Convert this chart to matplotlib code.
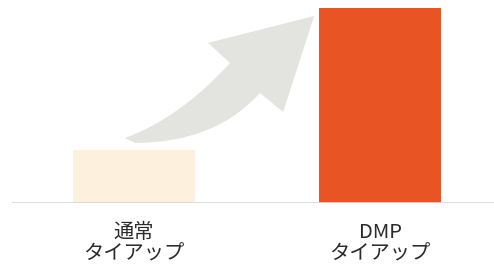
import matplotlib.pyplot as plt
from matplotlib.path import Path
from matplotlib.patches import PathPatch

plt.rcParams['font.family'] = ['Noto Sans CJK JP', 'DejaVu Sans']

# data
labels = ['通常\nタイアップ', 'DMP\nタイアップ']
values = [27, 100]
colors = ['#fdf1de', '#e95424']

fig = plt.figure(figsize=(4.94, 2.64), dpi=100)
ax = fig.add_axes([12 / 494, 61 / 264, 482 / 494, 203 / 264])

x = list(range(len(values)))
ax.bar(x, values, width=0.496, color=colors, zorder=2)

# curved arrow from the small bar up to the big one (data units)
verts = [
    (-0.037, 33.3),                    # tail tip
    (0.187, 43.6), (0.390, 71.8),      # upper edge
    (0.301, 82.1),                     # left barb
    (0.732, 95.9),                     # tip
    (0.606, 46.7),                     # right barb
    (0.512, 56.4),                     # neck lower
    (0.329, 30.8), (0.004, 30.8),      # lower edge
    (-0.037, 33.3),
]
codes = [Path.MOVETO, Path.CURVE3, Path.CURVE3, Path.LINETO, Path.LINETO,
         Path.LINETO, Path.LINETO, Path.CURVE3, Path.CURVE3, Path.CLOSEPOLY]
ax.add_patch(PathPatch(Path(verts, codes), facecolor='#e3e3df',
                       edgecolor='none', zorder=1))

ax.axhline(0, color='#d9d9d9', lw=2, zorder=3)

ax.set_xlim(-0.496, 1.463)
ax.set_ylim(0, 104.1)
ax.set_xticks(x)
ax.set_xticklabels(labels, fontsize=14.6, color='#2b2b2b', linespacing=1.0)
ax.tick_params(axis='x', length=0, pad=14)
ax.set_yticks([])
for s in ax.spines.values():
    s.set_visible(False)

plt.savefig('out.png', dpi=100)
